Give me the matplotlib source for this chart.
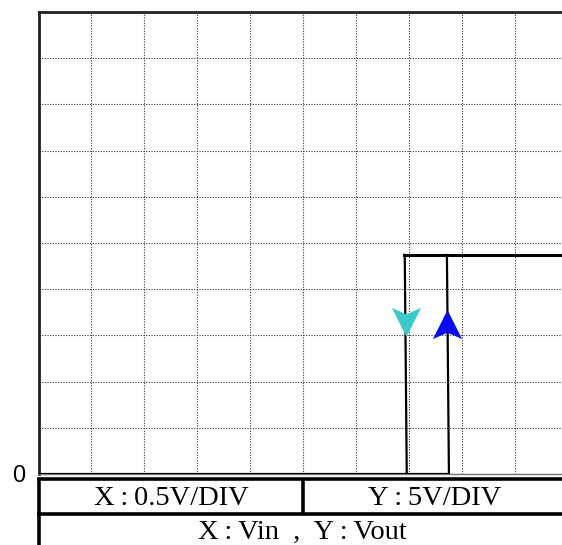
import matplotlib
matplotlib.use("Agg")
import matplotlib.pyplot as plt
from matplotlib.lines import Line2D
from matplotlib.path import Path
import numpy as np

# Scope settings (volts per division)
x_per_div = 0.5
y_per_div = 5.0

# Measured transfer characteristic (Vin in V, Vout in V)
v_low = 0.0
v_high = 23.7
vin_fall = 3.475    # threshold while Vin decreases (foot of the edge)
vin_rise = 3.873    # threshold while Vin increases (foot of the edge)
edge_lean = 0.019   # the edges lean slightly left towards the top
vin_min = 0.0
vin_max = 4.94

# Arrow markers: (Vin, Vout) centres
arrow_down = (3.465, 16.4)
arrow_up = (3.855, 16.2)

# Labels
scale_labels = ["X\u2009:\u20090.5V/DIV", "Y\u2009:\u20095V/DIV"]
axis_label = "X\u2009:\u2009Vin  ,  Y\u2009:\u2009Vout"
zero_label = "0"

W, H = 562, 545
fig = plt.figure(figsize=(W / 100, H / 100), dpi=100)

left_px, top_px, base_px = 38.5, 12, 474
ax = fig.add_axes([left_px / W, (H - base_px) / H, (W - left_px) / W, (base_px - top_px) / H])
ax.set_xlim(vin_min, vin_max)
ax.set_ylim(0, 10 * y_per_div)
ax.set_xticks(np.arange(0, vin_max, x_per_div))
ax.set_yticks(np.arange(0, 10 * y_per_div + 1, y_per_div))
ax.grid(True, color="#333333", linestyle=(0, (1, 1.4)), linewidth=0.8)
ax.tick_params(length=0, labelbottom=False, labelleft=False)
ax.spines["right"].set_visible(False)
ax.spines["left"].set_linewidth(2.0)
ax.spines["left"].set_color("#222222")
ax.spines["top"].set_linewidth(2.0)
ax.spines["top"].set_color("#222222")
ax.spines["bottom"].set_linewidth(1.0)
ax.spines["bottom"].set_color("#777777")

# Lower branch (Vin rising) and upper branch (Vin falling)
ax.plot([vin_min, vin_rise, vin_rise - edge_lean], [v_low, v_low, v_high], color="black", lw=1.6,
        solid_joinstyle="miter", zorder=3)
ax.plot([vin_fall, vin_fall - edge_lean], [v_low, v_high], color="black", lw=1.6, zorder=3)
ax.plot([vin_fall - edge_lean - 0.01, vin_max], [v_high, v_high], color="black", lw=2.2, zorder=3)

# Direction arrows
up_path = Path([(0, 0.5), (0.5, -0.5), (0, -0.28), (-0.5, -0.5), (0, 0.5)],
               [Path.MOVETO, Path.LINETO, Path.LINETO, Path.LINETO, Path.CLOSEPOLY])
down_path = Path([(0, -0.5), (0.5, 0.5), (0, 0.28), (-0.5, 0.5), (0, -0.5)],
                 [Path.MOVETO, Path.LINETO, Path.LINETO, Path.LINETO, Path.CLOSEPOLY])
ax.plot([arrow_down[0]], [arrow_down[1]], marker=down_path, markersize=21,
        color="#3cc9c9", markeredgewidth=0, linestyle="none", zorder=4)
ax.plot([arrow_up[0]], [arrow_up[1]], marker=up_path, markersize=21,
        color="#0a0af0", markeredgewidth=0, linestyle="none", zorder=4)

# Legend table beneath the plot
def fxy(px, py):
    return px / W, 1 - py / H

table_top, table_mid, table_div = 479, 514, 303
for (x0, y0), (x1, y1) in [((left_px - 1, table_top), (W, table_top)),
                           ((left_px - 1, table_mid), (W, table_mid)),
                           ((left_px, table_top), (left_px, H)),
                           ((table_div, table_top), (table_div, table_mid))]:
    a, b = fxy(x0, y0)
    c, d = fxy(x1, y1)
    fig.add_artist(Line2D([a, c], [b, d], color="black", lw=2.6, solid_capstyle="butt"))

serif = ["Liberation Serif", "DejaVu Serif"]
fig.text(*fxy(171, 505), scale_labels[0], family=serif, fontsize=20.5, ha="center", va="baseline")
fig.text(*fxy(435, 505), scale_labels[1], family=serif, fontsize=20.5, ha="center", va="baseline")
fig.text(*fxy(302, 539), axis_label, family=serif, fontsize=20.5, ha="center", va="baseline")
fig.text(*fxy(18.5, 482), zero_label, family=["Liberation Sans", "DejaVu Sans"], fontsize=17,
         ha="center", va="baseline")

fig.savefig("out.png", dpi=100)
